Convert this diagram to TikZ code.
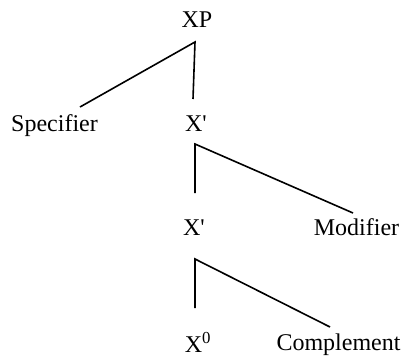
\documentclass[tikz,border=0pt]{standalone}
\usepackage{fontspec}
\setmainfont{Liberation Serif}
\usetikzlibrary{positioning}
\tikzset{
  cat/.style={
    anchor = base,
    inner sep = 0pt,
    font = \fontsize{18}{20}\selectfont
  },
  branch/.style={
    line width = 1.2pt
  }
}
\begin{document}
\begin{tikzpicture}[x=0.75pt,y=-0.75pt]
        \useasboundingbox (0,0) rectangle (405,358);

        \node[cat] (XP) at (197,27) {XP};
        \node[cat] (spec) at (54.5,131) {Specifier};
        \node[cat] (Xbar1) at (196,131) {X\textquotesingle};
        \node[cat] (Xbar2) at (194,235) {X\textquotesingle};
        \node[cat] (mod) at (356.5,235) {Modifier};
        \node[cat] (X0) at (198,352) {X\textsuperscript{0}};
        \node[cat] (comp) at (338.5,350) {Complement};

        \coordinate (XPb) at (195,42);
        \coordinate (specT) at (80,107);
        \coordinate (Xbar1T) at (193,99);
        \coordinate (Xbar1b) at (195,144);
        \coordinate (Xbar2T) at (195,193);
        \coordinate (modT) at (353,213);
        \coordinate (Xbar2b) at (195,259);
        \coordinate (X0T) at (195,308);
        \coordinate (compT) at (330,327);

        \draw[branch] (specT) -- (XPb) -- (Xbar1T);
        \draw[branch] (Xbar2T) -- (Xbar1b) -- (modT);
        \draw[branch] (X0T) -- (Xbar2b) -- (compT);
\end{tikzpicture}
\end{document}
